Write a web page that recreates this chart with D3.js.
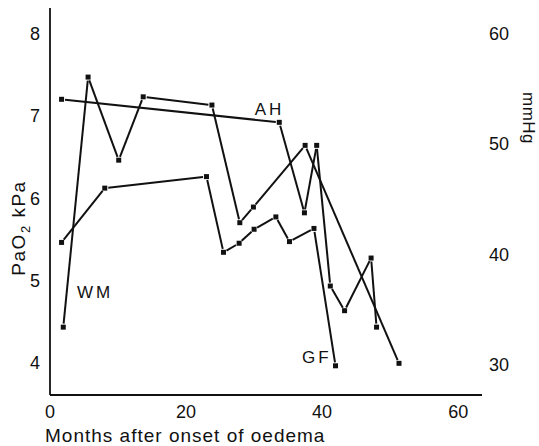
<!DOCTYPE html>
<html><head><meta charset="utf-8">
<script src="https://cdn.jsdelivr.net/npm/d3@7"></script>
<style>body{margin:0;background:#fff}svg{display:block}text{font-family:"Liberation Sans",Arial,sans-serif;fill:#111}</style>
</head><body>
<script>
// Data (months after onset, PaO2 kPa)
const wmX = [1.95, 5.6, 10.1, 13.7, 23.8, 27.9, 29.9, 37.5, 51.3];
const wmY = [4.40, 7.44, 6.43, 7.20, 7.10, 5.67, 5.86, 6.61, 3.96];
const ahX = [1.7, 33.7, 37.4, 39.2, 41.2, 43.3, 47.2, 48.0];
const ahY = [7.17, 6.89, 5.79, 6.61, 4.90, 4.60, 5.24, 4.40];
const gfX = [1.7, 8.05, 23.0, 25.5, 27.8, 30.0, 33.2, 35.2, 38.8, 41.97];
const gfY = [5.43, 6.09, 6.23, 5.31, 5.42, 5.59, 5.74, 5.44, 5.60, 3.93];
const xTicks = [0, 20, 40, 60];
const yTicks = [4, 5, 6, 7, 8];
const mmTicks = [30, 40, 50, 60];
const seriesNames = ["WM", "AH", "GF"];
const labelPos = [[3.97, 4.75], [30.1, 6.98], [37.06, 3.96]];

const W = 539, H = 446;
const svg = d3.select("body").append("svg").attr("width", W).attr("height", H);
const x = d3.scaleLinear().domain([0, 63.5]).range([50, 482]);
const y = d3.scaleLinear().domain([3.575, 8.28]).range([395, 8]);
const yR = d3.scaleLinear().domain([30, 60]).range([365.4, 33.6]);

// axes lines
svg.append("line").attr("x1", 50).attr("x2", 50).attr("y1", y.range()[1]).attr("y2", y.range()[0])
  .attr("stroke", "#111").attr("stroke-width", 1.8);
svg.append("line").attr("x1", x.range()[0]).attr("x2", x.range()[1]).attr("y1", 395).attr("y2", 395)
  .attr("stroke", "#111").attr("stroke-width", 1.8);

// tick labels
svg.selectAll(".xt").data(xTicks).enter().append("text")
  .attr("x", d => x(d)).attr("y", 418).attr("text-anchor", "middle")
  .style("font-size", "18px").text(d => d);
svg.selectAll(".yt").data(yTicks).enter().append("text")
  .attr("x", 35).attr("y", d => y(d) + 3).attr("text-anchor", "middle")
  .attr("dominant-baseline", "central").style("font-size", "18px").text(d => d);
svg.selectAll(".rt").data(mmTicks).enter().append("text")
  .attr("x", 499).attr("y", d => yR(d)).attr("text-anchor", "middle")
  .attr("dominant-baseline", "central").style("font-size", "18px").text(d => d);

// axis titles
svg.append("text").attr("x", 45).attr("y", 442).style("font-size", "19px")
  .style("letter-spacing", "1px").text("Months after onset of oedema");
const yl = svg.append("text").attr("transform", "translate(25,228) rotate(-90)")
  .attr("text-anchor", "middle").style("font-size", "19px").style("letter-spacing", "1.5px");
yl.append("tspan").text("PaO");
yl.append("tspan").attr("dy", 5).style("font-size", "13px").text("2");
yl.append("tspan").attr("dy", -5).text(" kPa");
svg.append("text").attr("transform", "translate(523,118) rotate(90)")
  .attr("text-anchor", "middle").style("font-size", "17px").style("letter-spacing", "0.5px").text("mmHg");

// series
const series = [[wmX, wmY], [ahX, ahY], [gfX, gfY]];
const gap = 3.5;
const lineGen = d3.line();
series.forEach(([xs, ys]) => {
  const pts = xs.map((v, i) => [x(v), y(ys[i])]);
  for (let i = 0; i < pts.length - 1; i++) {
    const [x1, y1] = pts[i], [x2, y2] = pts[i + 1];
    const dx = x2 - x1, dy = y2 - y1, L = Math.hypot(dx, dy);
    const ux = dx / L, uy = dy / L;
    svg.append("path")
      .attr("d", lineGen([[x1 + ux * gap, y1 + uy * gap], [x2 - ux * gap, y2 - uy * gap]]))
      .attr("stroke", "#111").attr("stroke-width", 2).attr("fill", "none");
  }
  svg.selectAll(null).data(pts).enter().append("rect")
    .attr("x", d => d[0] - 2.5).attr("y", d => d[1] - 2.5)
    .attr("width", 5).attr("height", 5).attr("fill", "#111");
});

// series labels
svg.selectAll(".sl").data(seriesNames).enter().append("text")
  .attr("x", (d, i) => x(labelPos[i][0])).attr("y", (d, i) => y(labelPos[i][1]))
  .style("font-size", "17px").style("letter-spacing", "3px").text(d => d);
</script>
</body></html>
